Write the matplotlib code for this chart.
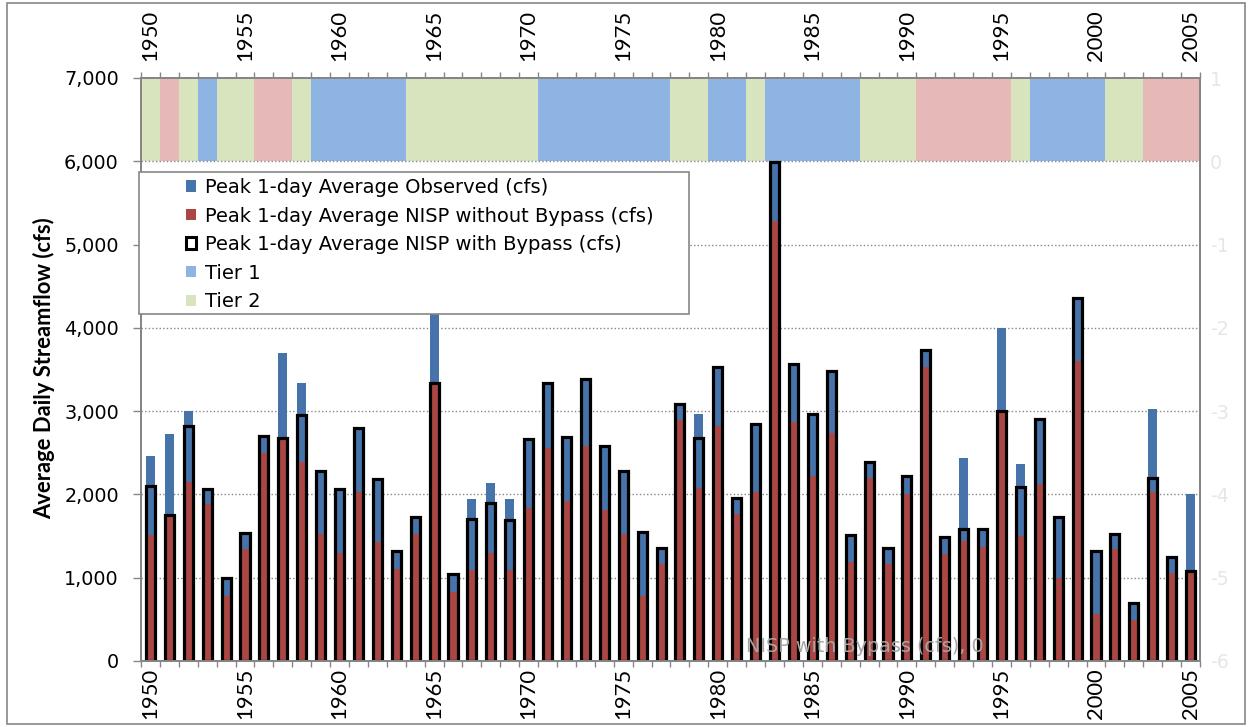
import numpy as np
import matplotlib
matplotlib.use("Agg")
import matplotlib.pyplot as plt
from matplotlib.patches import Patch, Rectangle

plt.rcParams['font.family'] = ['DejaVu Sans']

# ---------------- data ----------------
years = list(range(1950, 2006))

observed = [2460, 2720, 3000, 2070, 1000, 1540, 2700, 3700, 3340, 2280,
            2070, 2800, 2180, 1320, 1730, 4170, 1040, 1940, 2140, 1940,
            2670, 3340, 2690, 3380, 2580, 2280, 1550, 1360, 3080, 2970,
            3530, 1960, 2840, 5990, 3570, 2970, 3480, 1510, 2390, 1360,
            2220, 3740, 1490, 2440, 1590, 4000, 2370, 2910, 1730, 4360,
            1320, 1530, 700, 3020, 1250, 2000]

nisp_with_bypass = [2100, 1750, 2820, 2070, 1000, 1540, 2700, 2680, 2950, 2280,
                    2070, 2800, 2180, 1320, 1730, 3340, 1040, 1710, 1900, 1690,
                    2670, 3340, 2690, 3380, 2580, 2280, 1550, 1360, 3080, 2680,
                    3530, 1960, 2840, 5990, 3570, 2970, 3480, 1510, 2390, 1360,
                    2220, 3740, 1490, 1590, 1590, 3000, 2090, 2910, 1730, 4360,
                    1320, 1530, 700, 2200, 1250, 1080]

nisp_without_bypass = [1510, 1740, 2150, 1880, 780, 1340, 2500, 2660, 2390, 1530,
                       1300, 2030, 1430, 1100, 1530, 3320, 830, 1090, 1300, 1090,
                       1840, 2560, 1920, 2580, 1810, 1530, 780, 1170, 2890, 2080,
                       2820, 1770, 2030, 5280, 2870, 2220, 2740, 1190, 2200, 1160,
                       2000, 3530, 1280, 1440, 1370, 2980, 1500, 2120, 1000, 3600,
                       570, 1340, 490, 2030, 1060, 1070]

# tier classification per year (1 = Tier 1, 2 = Tier 2, 3 = other)
tiers = [2, 3, 2, 1, 2, 2, 3, 3, 2, 1,
         1, 1, 1, 1, 2, 2, 2, 2, 2, 2,
         2, 1, 1, 1, 1, 1, 1, 1, 2, 2,
         1, 1, 2, 1, 1, 1, 1, 1, 2, 2,
         2, 3, 3, 3, 3, 3, 2, 1, 1, 1,
         1, 2, 2, 3, 3, 3]

tier_bottom = 6000
tier_height = 1000

year_labels = [1950, 1955, 1960, 1965, 1970, 1975, 1980, 1985, 1990, 1995, 2000, 2005]
left_ticks = [0, 1000, 2000, 3000, 4000, 5000, 6000, 7000]
right_ticks = [-6, -5, -4, -3, -2, -1, 0, 1]

series_names = ["Peak 1-day Average Observed (cfs)",
                "Peak 1-day Average NISP without Bypass (cfs)",
                "Peak 1-day Average NISP with Bypass (cfs)",
                "Tier 1", "Tier 2"]

# ---------------- style ----------------
W, H = 1249, 727
DPI = 100
C_OBS = '#4674AA'
C_RED = '#AA4643'
TIER_COLORS = {1: '#8EB4E3', 2: '#D7E4BD', 3: '#E6B9B8'}
GRAY = '#868686'
FS_H = 13.8          # horizontal texts
FS_V = 15.8          # rotated texts
ROT_FONT = ['Lato', 'DejaVu Sans']

fig = plt.figure(figsize=(W / DPI, H / DPI), dpi=DPI)
L, R, T, B = 141, 1200, 78, 661
ax = fig.add_axes([L / W, 1 - B / H, (R - L) / W, (B - T) / H])

x = np.arange(len(years))
bw = 0.48

# tier strip
ax.bar(x, [tier_height] * len(x), bottom=tier_bottom, width=1.0,
       color=[TIER_COLORS[t] for t in tiers], linewidth=0, zorder=1)

ax.bar(x, observed, width=bw, color=C_OBS, linewidth=0, zorder=3)
ax.bar(x, nisp_without_bypass, width=bw, color=C_RED, linewidth=0, zorder=4)
ax.bar(x, nisp_with_bypass, width=bw, fill=False, edgecolor='black',
       linewidth=2.3, joinstyle='miter', zorder=5)

ax.set_xlim(-0.5, len(x) - 0.5)
ax.set_ylim(0, 7000)

# gridlines
for v in left_ticks[1:-1]:
    ax.axhline(v, color=GRAY, linewidth=1.0, linestyle=(0, (1, 1.6)), zorder=2)

ax.set_yticks(left_ticks)
ax.set_yticklabels([f"{v:,}" for v in left_ticks], fontsize=FS_H, color='black')
ax.tick_params(axis='y', direction='out', length=5.5, width=1, color=GRAY, pad=10.5)

pos = [years.index(y) for y in year_labels]
ax.set_xticks(pos)
ax.set_xticklabels([str(y) for y in year_labels], rotation=90, fontsize=FS_V,
                   family=ROT_FONT)
ax.set_xticks(np.arange(-0.5, len(x) + 0.5, 1.0), minor=True)
ax.tick_params(axis='x', which='major', length=0, pad=5)
ax.tick_params(axis='x', which='minor', direction='out', length=4.5, width=1, color=GRAY)

# top axis
axt = ax.twiny()
axt.set_xlim(ax.get_xlim())
axt.set_xticks(pos)
axt.set_xticklabels([str(y) for y in year_labels], rotation=90, fontsize=FS_V,
                    family=ROT_FONT)
axt.set_xticks(np.arange(-0.5, len(x) + 0.5, 1.0), minor=True)
axt.tick_params(axis='x', which='major', length=0, pad=12)
axt.tick_params(axis='x', which='minor', direction='out', length=4.5, width=1, color=GRAY)

# right axis
axr = ax.twinx()
axr.set_ylim(-6, 1)
axr.set_yticks(right_ticks)
axr.set_yticklabels([str(v) for v in right_ticks], fontsize=FS_H, color='#E6E6E6')
axr.tick_params(axis='y', length=0, pad=7)

for a in (ax, axt, axr):
    for s in a.spines.values():
        s.set_color(GRAY)
        s.set_linewidth(1.2)

fig.text(44 / W, 1 - 368 / H, "Average Daily Streamflow (cfs)", rotation=90,
         fontsize=15.8, fontweight='bold', family=ROT_FONT, ha='center', va='center')

ax.text(865, H - 647, "NISP with Bypass (cfs), 0", transform=None,
        fontsize=FS_H, color='#A6A6A6', ha='center', va='center', zorder=6)

# legend box
lx0, ly0, lx1, ly1 = 139, 172, 689, 314
fig.patches.append(Rectangle((lx0 / W, 1 - ly1 / H), (lx1 - lx0) / W, (ly1 - ly0) / H,
                             transform=fig.transFigure, facecolor='white',
                             edgecolor=GRAY, linewidth=1.2, zorder=10))
handles = [Patch(facecolor=C_OBS, edgecolor='none'),
           Patch(facecolor=C_RED, edgecolor='none'),
           Patch(facecolor='white', edgecolor='black', linewidth=2.2),
           Patch(facecolor=TIER_COLORS[1], edgecolor='none'),
           Patch(facecolor=TIER_COLORS[2], edgecolor='none')]
leg = fig.legend(handles, series_names, loc='upper left',
                 bbox_to_anchor=(186 / W, 1 - 178 / H), frameon=False,
                 fontsize=14.0, handlelength=0.52, handleheight=0.52,
                 handletextpad=0.45, labelspacing=0.49, borderpad=0, borderaxespad=0)
leg.set_zorder(11)

# outer border
fig.patches.append(Rectangle((7 / W, 1 - 724 / H), (1245 - 7) / W, (724 - 3) / H,
                             transform=fig.transFigure, fill=False,
                             edgecolor=GRAY, linewidth=1.2, zorder=0))

fig.savefig("out.png", dpi=DPI)
